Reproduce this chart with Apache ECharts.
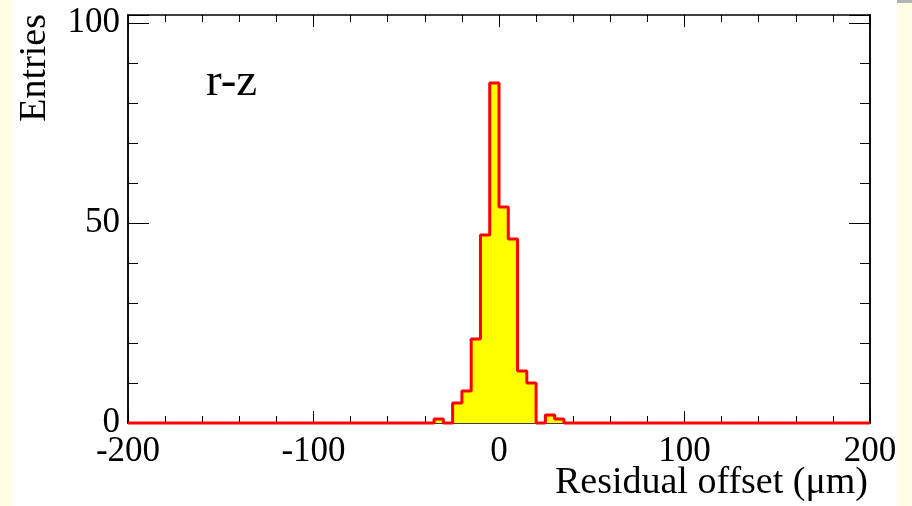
<!DOCTYPE html>
<html>
<head>
<meta charset="utf-8">
<script src="https://cdn.jsdelivr.net/npm/echarts@6/dist/echarts.min.js"></script>
<style>
html,body{margin:0;padding:0;background:#fff;}
#c{width:912px;height:506px;}
</style>
</head>
<body>
<div id="c"></div>
<script>
// Histogram definition: 80 bins of width 5 from -200 to 200
var binStart = -200;
var binWidth = 5;
var counts = [
  0,0,0,0,0,0,0,0,0,0,
  0,0,0,0,0,0,0,0,0,0,
  0,0,0,0,0,0,0,0,0,0,
  0,0,0,1,0,5,8,21,47,85,
  54,46,13,10,0,2,1,0,0,0,
  0,0,0,0,0,0,0,0,0,0,
  0,0,0,0,0,0,0,0,0,0,
  0,0,0,0,0,0,0,0,0,0
];
var xTickLabels = ['-200','-100','0','100','200'];
var yTickLabels = ['0','50','100'];
var xTitle = 'Residual offset (\u03bcm)';
var yTitle = 'Entries';
var panelLabel = 'r-z';

var stepData = [];
for (var k = 0; k < counts.length; k++) {
  stepData.push([binStart + k * binWidth, counts[k]]);
}
stepData.push([binStart + counts.length * binWidth, counts[counts.length - 1]]);

var FONT = 'Liberation Serif';
var chart = echarts.init(document.getElementById('c'));
var lineBlack = {color: '#000', width: 1.5};
function xAx(pos, showLabel) {
  return {
    type: 'value', position: pos, min: -200, max: 200, interval: 100,
    axisLine: {show: true, onZero: false, lineStyle: lineBlack},
    axisTick: {show: true, inside: true, length: 12, lineStyle: {color: '#000', width: 1}},
    minorTick: {show: true, splitNumber: 5, length: 7, lineStyle: {color: '#000', width: 1}},
    splitLine: {show: false}, minorSplitLine: {show: false},
    axisLabel: {show: showLabel, fontFamily: FONT, fontSize: 35, color: '#000', margin: 11,
      formatter: function (v) { var i = xTickLabels.indexOf(String(v)); return i >= 0 ? xTickLabels[i] : ''; }}
  };
}
function yAx(pos, interval, len, showLabel) {
  return {
    type: 'value', position: pos, min: 0, max: 102, interval: interval,
    axisLine: {show: true, onZero: false, lineStyle: lineBlack},
    axisTick: {show: true, inside: true, length: len, lineStyle: {color: '#000', width: 1}},
    splitLine: {show: false},
    axisLabel: {show: showLabel, fontFamily: FONT, fontSize: 35, color: '#000', margin: 8,
      formatter: function (v) { var i = yTickLabels.indexOf(String(v)); return i >= 0 ? yTickLabels[i] : ''; }}
  };
}
chart.setOption({
  animation: false,
  backgroundColor: '#fff',
  grid: {left: 128, right: 42, top: 15, bottom: 83, containLabel: false},
  xAxis: [xAx('bottom', true), xAx('top', false)],
  yAxis: [yAx('left', 50, 21, true), yAx('left', 10, 10, false), yAx('right', 50, 21, false), yAx('right', 10, 10, false)],
  graphic: [
    {type: 'rect', z: -10, shape: {x: 0, y: 0, width: 13, height: 506}, style: {fill: '#fffde6'}},
    {type: 'rect', z: -10, shape: {x: 897, y: 0, width: 15, height: 506}, style: {fill: '#fffde6'}},
    {type: 'rect', z: -9, shape: {x: 897, y: 0, width: 15, height: 3}, style: {fill: '#b4b4b4'}},
    {type: 'text', x: 206, y: 106, style: {text: panelLabel, font: '47px "Liberation Serif"', fill: '#000', textAlign: 'left', textVerticalAlign: 'bottom'}},
    {type: 'text', x: 868, y: 502, style: {text: xTitle, font: '38px "Liberation Serif"', fill: '#000', textAlign: 'right', textVerticalAlign: 'bottom'}},
    {type: 'text', x: 54, y: 14, rotation: Math.PI / 2, style: {text: yTitle, font: '38px "Liberation Serif"', fill: '#000', textAlign: 'right', textVerticalAlign: 'bottom'}}
  ],
  series: [{
    type: 'line', xAxisIndex: 0, yAxisIndex: 0, step: 'end', data: stepData,
    symbol: 'none', clip: false, z: 5,
    lineStyle: {color: '#ff0000', width: 3},
    areaStyle: {color: '#ffff00', opacity: 1}
  }]
});
</script>
</body>
</html>
